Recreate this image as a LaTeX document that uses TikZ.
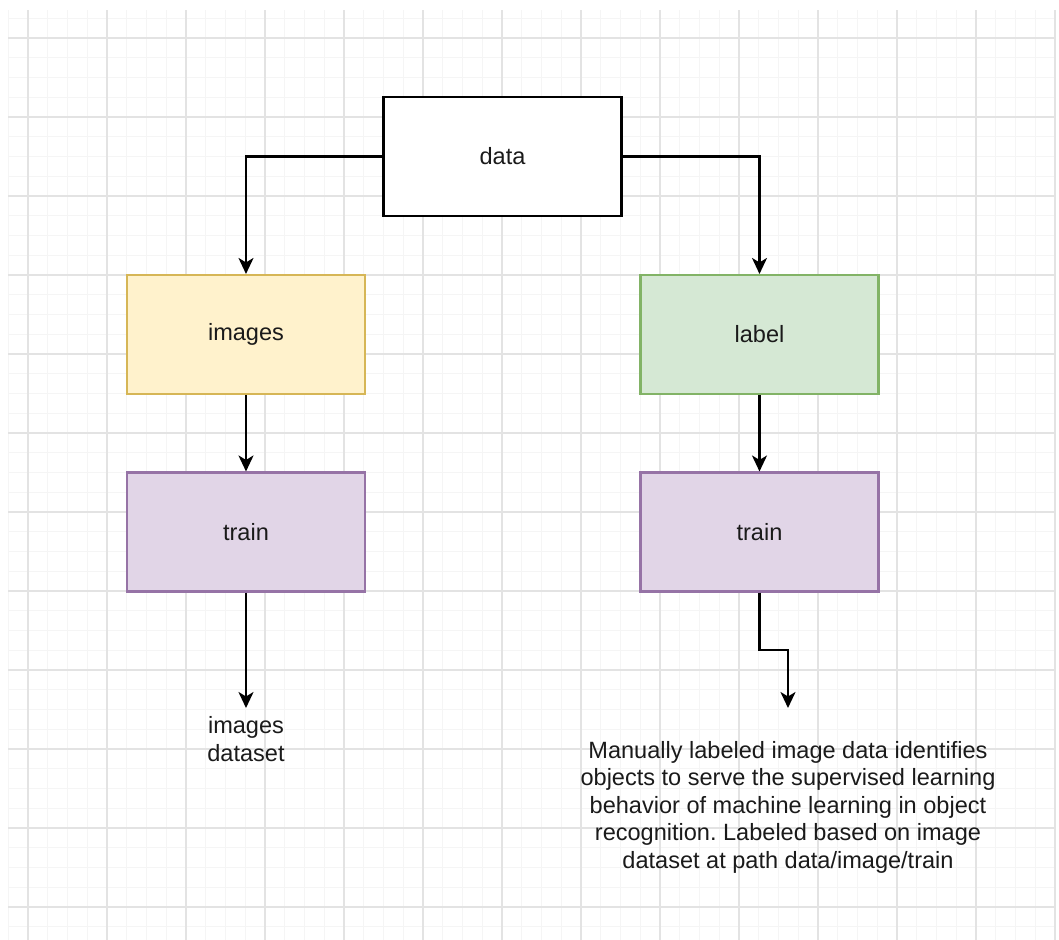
\documentclass[tikz,border=0pt]{standalone}
\usepackage{fontspec}
\setmainfont{Liberation Sans}
\usepackage{xcolor}
\usetikzlibrary{arrows.meta}
\frenchspacing

\definecolor{gridmajor}{HTML}{E3E3E3}
\definecolor{gridminor}{HTML}{F5F5F5}
\definecolor{yellowfill}{HTML}{FFF2CC}
\definecolor{yellowline}{HTML}{D6B656}
\definecolor{greenfill}{HTML}{D5E8D4}
\definecolor{greenline}{HTML}{82B366}
\definecolor{purplefill}{HTML}{E1D5E7}
\definecolor{purpleline}{HTML}{9673A6}
\definecolor{txt}{HTML}{1A1A1A}

\tikzset{
  box/.style={draw, line width=1.2pt, minimum width=4.76cm, minimum height=2.38cm,
    font=\fontsize{13.4}{15.65}\selectfont, text=txt},
  flow/.style={line width=1.3pt, -{Stealth[length=0.32cm, width=0.3cm, inset=0.09cm]}},
  note/.style={align=center, font=\fontsize{13.4}{15.65}\selectfont, text=txt}
}

\begin{document}
\begin{tikzpicture}[x=0.02cm, y=-0.02cm]
\useasboundingbox (0,0) rectangle (1059,940);

% background grid
\foreach \i in {0,...,53}
  \draw [gridminor, line width=0.6pt] ({8.25+19.75*\i},10) -- ({8.25+19.75*\i},940);
\foreach \j in {0,...,46}
  \draw [gridminor, line width=0.6pt] (8,{18.25+19.75*\j}) -- (1055,{18.25+19.75*\j});
\foreach \i in {0,...,13}
  \draw [gridmajor, line width=0.7pt] ({28+79*\i},10) -- ({28+79*\i},940);
\foreach \j in {0,...,11}
  \draw [gridmajor, line width=0.7pt] (8,{38+79*\j}) -- (1055,{38+79*\j});

% boxes
\node [box, fill=white] (data) at (502.5,156.5) {data};
\node [box, fill=yellowfill, draw=yellowline] (images) at (246,334.5) {images};
\node [box, fill=greenfill, draw=greenline] (label) at (759.5,334.5) {label};
\node [box, fill=purplefill, draw=purpleline] (trainL) at (246,532) {train};
\node [box, fill=purplefill, draw=purpleline] (trainR) at (759.5,532) {train};

% loose ends and notes
\coordinate (tipL) at (246,708);
\coordinate (jogR) at (788,650);
\coordinate (tipR) at (788,708);
\node [note] (dataset) at (246,739) {images\\dataset};
\node [note] (remark) at (788,807) {Manually labeled image data identifies\\
  objects to serve the supervised learning\\
  behavior of machine learning in object\\
  recognition. Labeled based on image\\
  dataset at path data/image/train};

% connectors
\draw [flow] (data.west) -| (images.north);
\draw [flow] (data.east) -| (label.north);
\draw [flow] (images) -- (trainL);
\draw [flow] (label) -- (trainR);
\draw [flow] (trainL) -- (tipL);
\draw [flow] (trainR.south) |- (jogR) -- (tipR);
\end{tikzpicture}
\end{document}
